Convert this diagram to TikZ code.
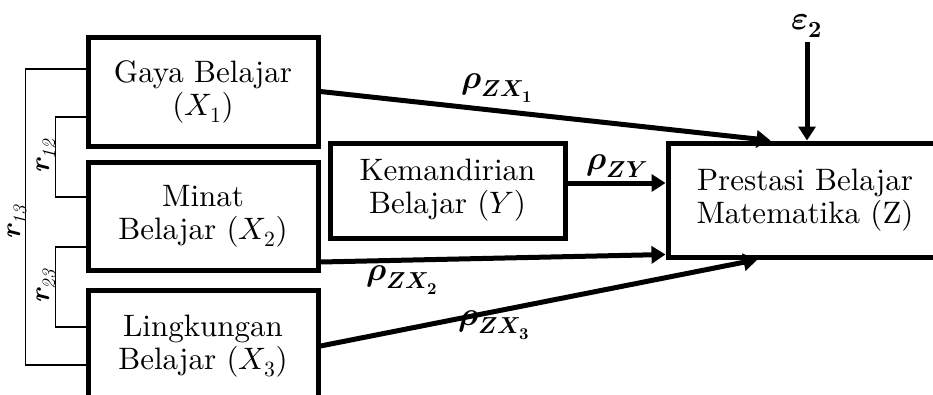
\documentclass[tikz,border=0pt]{standalone}
\usepackage{unicode-math}
\setmainfont{lmroman10}[Extension=.otf, UprightFont=*-regular, ItalicFont=*-italic,
  BoldFont=*-bold, BoldItalicFont=*-bolditalic]
\setmathfont{Latin Modern Math}
\usetikzlibrary{calc,arrows.meta}
\newcommand{\corrsym}[1]{{\bfseries\itshape r}\kern0.5pt\raisebox{-0.22em}{\fontsize{19}{19}\selectfont\itshape #1}}
\tikzset{
  varbox/.style={draw, line width=5pt, align=center, inner sep=0pt,
    font=\fontsize{31}{33}\selectfont},
  pathline/.style={line width=5pt, -{Triangle[length=14pt,width=17pt]}},
  corrline/.style={line width=1.8pt},
  coef/.style={font=\fontsize{33}{34}\selectfont, inner sep=0pt},
  corrlbl/.style={font=\fontsize{28}{29}\selectfont, rotate=90, inner sep=0pt}
}
\begin{document}
\begin{tikzpicture}[x=1pt, y=-1pt]
  \clip (0,0) rectangle (933,394);
  \fill[white] (0,0) rectangle (933,394);

  % exogenous variables
  \node[varbox, minimum width=230pt, minimum height=109pt] (b1) at (203,91.5)
    {Gaya Belajar\\($X_1$)};
  \node[varbox, minimum width=230pt, minimum height=108pt] (b2) at (203,216)
    {Minat\\Belajar ($X_2$)};
  \node[varbox, minimum width=230pt, minimum height=112pt] (b3) at (203,346)
    {Lingkungan\\Belajar ($X_3$)};

  % intervening and outcome variables
  \node[varbox, minimum width=235pt, minimum height=95pt] (k) at (447.5,190.5)
    {Kemandirian\\Belajar ($Y$)};
  \node[varbox, minimum width=274pt, minimum height=114pt] (pz) at (805,200)
    {Prestasi Belajar\\Matematika (Z)};

  % residual
  \node[coef] (eps) at (807,26) {$\symbfit{\varepsilon}_{\symbf{2}}$};
  \draw[pathline] ([yshift=-4pt]eps.south) -- (eps.south |- pz.north);

  % path arrows
  \draw[pathline] (b1.east) -- ([xshift=105pt]pz.north west);
  \draw[pathline] ([yshift=7.5pt]k.east) -- ([yshift=7.5pt]k.east -| pz.west);
  \draw[pathline] ([yshift=-46pt]b2.east) -- ([yshift=5pt]pz.south west);
  \draw[pathline] (b3.east) -- ([xshift=92pt]pz.south west);

  % path coefficients
  \node[coef] (p1) at (497,88) {$\symbfit{\rho}_{\symbfit{ZX}_{\symbf{1}}}$};
  \node[coef] (py) at (617,166) {$\symbfit{\rho}_{\symbfit{ZY}}$};
  \node[coef] (p2) at (402,280) {$\symbfit{\rho}_{\symbfit{ZX}_{\symbf{2}}}$};
  \node[coef] (p3) at (494,325) {$\symbfit{\rho}_{\symbfit{ZX}_{\symbf{3}}}$};

  % correlation brackets
  \draw[corrline] ([yshift=22.5pt]b1.west) -- ++(-60,0) |- ([yshift=-19pt]b3.west);
  \draw[corrline] ([yshift=-25.5pt]b1.west) -- ++(-30,0) |- ([yshift=19pt]b2.west);
  \draw[corrline] ([yshift=-31pt]b2.west) -- ++(-30,0) |- ([yshift=19pt]b3.west);

  \node[corrlbl] (r12) at (46,157) {\corrsym{12}};
  \node[corrlbl] (r13) at (17,223) {\corrsym{13}};
  \node[corrlbl] (r23) at (46,287) {\corrsym{23}};
\end{tikzpicture}
\end{document}
